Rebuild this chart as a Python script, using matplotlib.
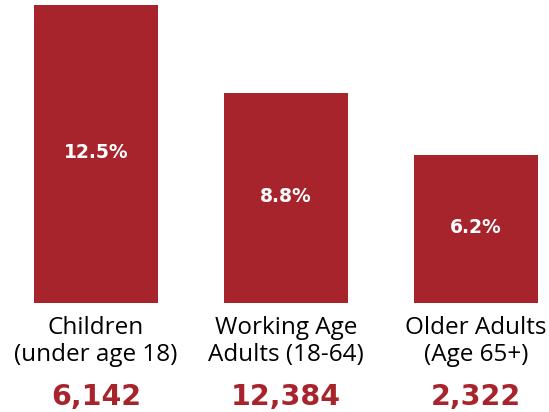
import matplotlib.pyplot as plt

# data
categories = [("Children", "(under age 18)"),
              ("Working Age", "Adults (18-64)"),
              ("Older Adults", "(Age 65+)")]
rates = [12.5, 8.8, 6.2]
counts = [6142, 12384, 2322]

bar_color = "#A8242C"
W, H = 549, 412
px_x = 190.0          # pixels per category
px_y = 23.84          # pixels per percent
x0_px, y0_px = 96, 109  # first bar centre / baseline (from bottom)

fig = plt.figure(figsize=(W / 100, H / 100), dpi=100)
ax = fig.add_axes([0, 0, 1, 1])
ax.set_xlim(-x0_px / px_x, (W - x0_px) / px_x)
ax.set_ylim(-y0_px / px_y, (H - y0_px) / px_y)
ax.axis("off")

xs = range(len(categories))
ax.bar(xs, rates, width=0.65, color=bar_color)

def below(px):
    # px measured from top of the image -> data y
    return -(px - 303) / px_y

for x, r, c, (l1, l2) in zip(xs, rates, counts, categories):
    ax.text(x, r / 2 - 4 / px_y, "{:.1f}%".format(r), ha="center", va="baseline",
            color="white", fontsize=13.5, fontweight="bold", family="DejaVu Sans")
    ax.text(x, below(334), l1, ha="center", va="baseline",
            color="black", fontsize=17.5, family="Open Sans")
    ax.text(x, below(361), l2, ha="center", va="baseline",
            color="black", fontsize=17.5, family="Open Sans")
    ax.text(x, below(405), "{:,}".format(c), ha="center", va="baseline",
            color=bar_color, fontsize=20.5, fontweight="bold", family="DejaVu Sans")

fig.savefig("out.png", dpi=100)
